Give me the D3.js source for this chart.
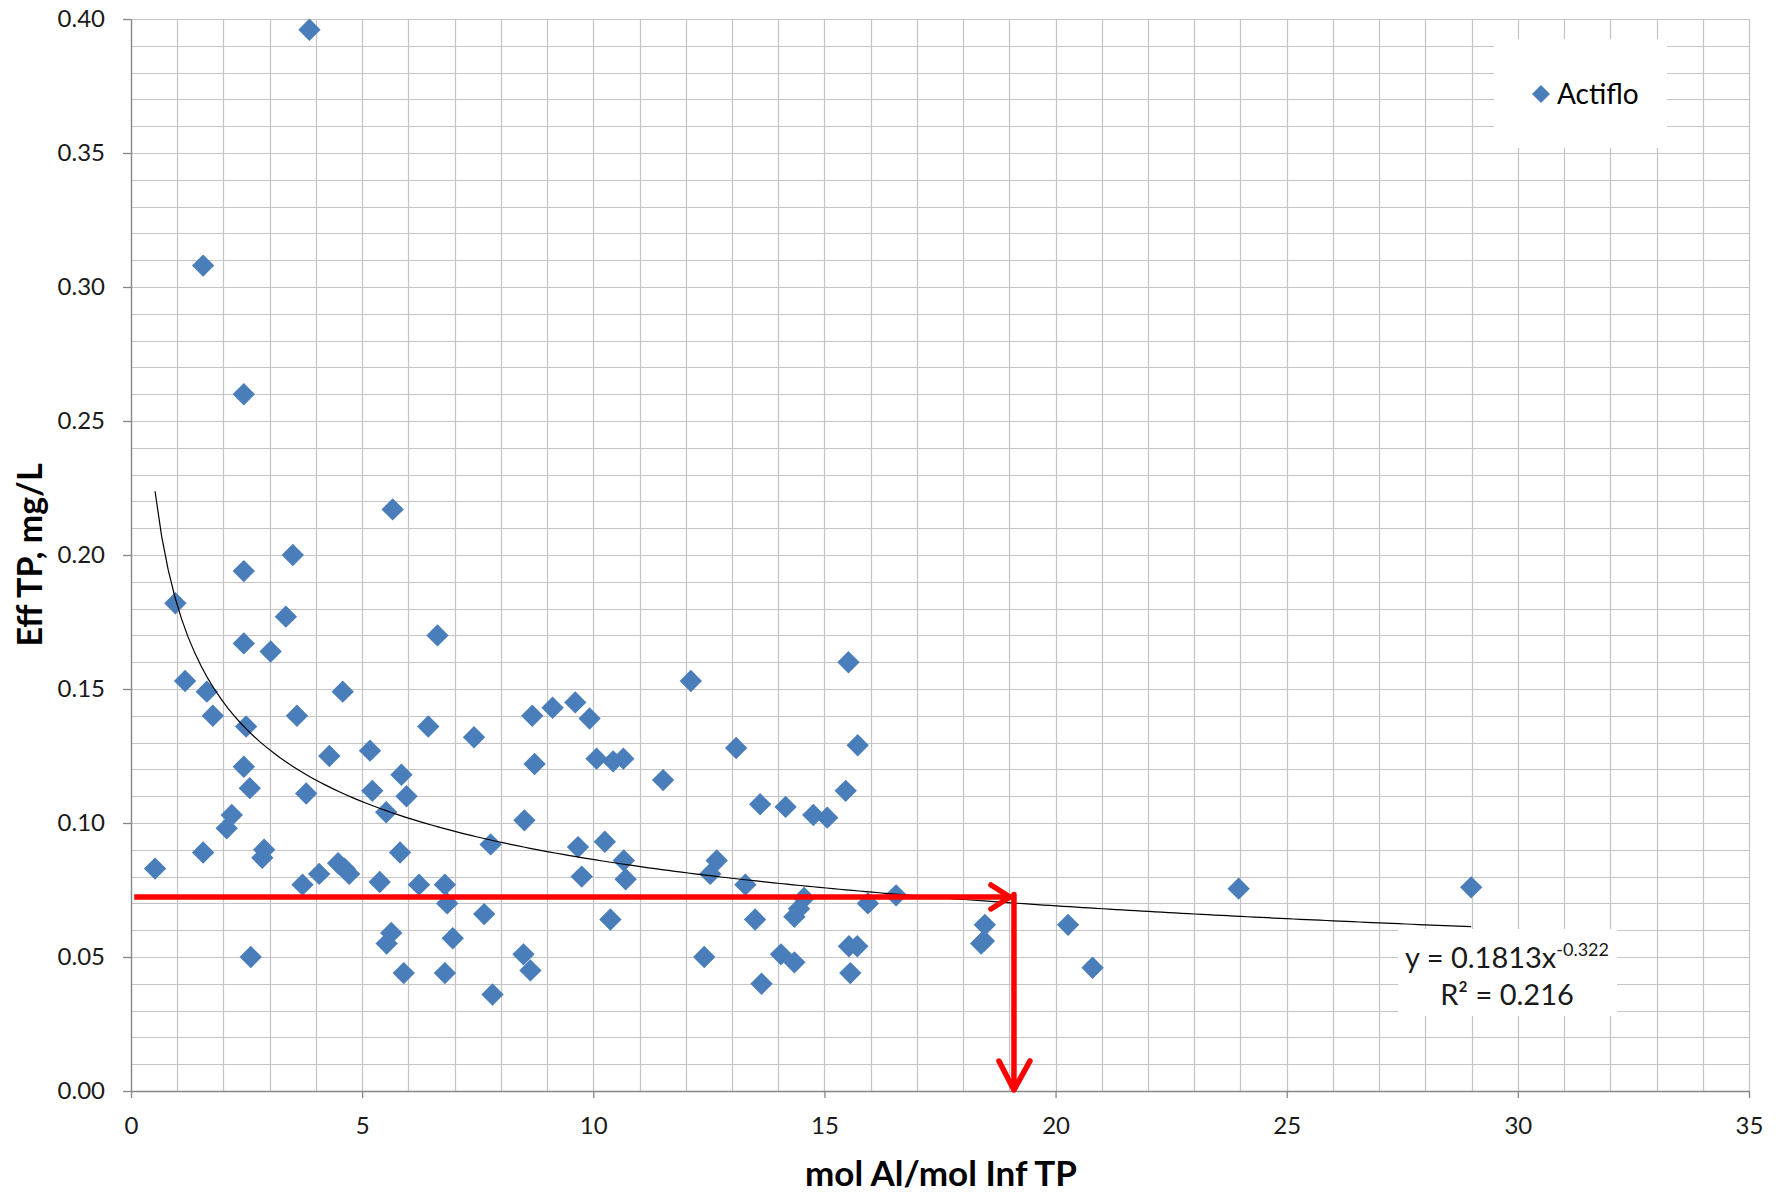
<!DOCTYPE html>
<html>
<head>
<meta charset="utf-8">
<script src="https://cdn.jsdelivr.net/npm/d3@7"></script>
<style>
  body { margin: 0; background: #fff; }
</style>
</head>
<body>
<div id="container"></div>
<script>
// values
let seriesName = "Actiflo";
let xVals = [3.86, 1.56, 2.44, 5.66, 3.50, 2.44, 0.96, 3.35, 6.63, 2.44,
  3.02, 15.52, 1.17, 12.11, 1.64, 4.58, 9.61, 9.12, 1.77, 3.59,
  8.68, 9.92, 2.49, 6.43, 7.42, 15.72, 13.09, 5.17, 4.29, 10.07,
  10.43, 10.65, 8.73, 2.44, 5.85, 11.51, 2.57, 5.22, 15.46, 3.79,
  5.96, 13.61, 14.16, 5.52, 2.18, 14.76, 15.06, 8.51, 2.07, 7.78,
  10.25, 9.67, 2.88, 1.56, 5.82, 2.84, 12.67, 10.66, 4.48, 0.52,
  4.62, 4.07, 12.53, 4.72, 9.75, 10.70, 5.38, 3.71, 6.23, 6.79,
  13.29, 23.96, 28.99, 16.55, 14.56, 15.94, 6.84, 14.45, 14.35, 7.64,
  13.50, 10.37, 18.47, 20.27, 18.39, 18.45, 6.96, 5.63, 5.53, 15.53,
  15.71, 14.06, 8.49, 12.40, 2.59, 14.35, 8.64, 20.80, 15.56, 5.90,
  6.79, 13.64, 7.82];
let yVals = [0.396, 0.308, 0.260, 0.217, 0.200, 0.194, 0.182, 0.177, 0.170, 0.167,
  0.164, 0.160, 0.153, 0.153, 0.149, 0.149, 0.145, 0.143, 0.140, 0.140,
  0.140, 0.139, 0.136, 0.136, 0.132, 0.129, 0.128, 0.127, 0.125, 0.124,
  0.123, 0.124, 0.122, 0.121, 0.118, 0.116, 0.113, 0.112, 0.112, 0.111,
  0.110, 0.107, 0.106, 0.104, 0.103, 0.103, 0.102, 0.101, 0.098, 0.092,
  0.093, 0.091, 0.090, 0.089, 0.089, 0.087, 0.086, 0.086, 0.085, 0.083,
  0.083, 0.081, 0.081, 0.081, 0.080, 0.079, 0.078, 0.077, 0.077, 0.077,
  0.077, 0.0755, 0.076, 0.073, 0.072, 0.070, 0.070, 0.068, 0.065, 0.066,
  0.064, 0.064, 0.062, 0.062, 0.055, 0.056, 0.057, 0.059, 0.055, 0.054,
  0.054, 0.051, 0.051, 0.050, 0.050, 0.048, 0.045, 0.046, 0.044, 0.044,
  0.044, 0.040, 0.036];
let xTicks = [0, 5, 10, 15, 20, 25, 30, 35];
let yTicks = [0.00, 0.05, 0.10, 0.15, 0.20, 0.25, 0.30, 0.35, 0.40];
let xTitle = "mol Al/mol Inf TP";
let yTitle = "Eff TP, mg/L";

// power trendline shown on the chart
let trendA = 0.1813;
let trendB = -0.322;
let trendEq = "y = 0.1813x";
let trendExp = "-0.322";
let trendR2 = "R\u00b2 = 0.216";

// red read-off arrow
let readY = 0.0724;
let readX = 19.1;
let readStart = 0.07;

let w = 1783;
let h = 1194;
let plotLeft = 131, plotRight = 1749, plotTop = 19, plotBottom = 1091;
let font = "Lato, 'Open Sans', sans-serif";
let blue = "#4a7ebb";

let viz = d3.select("#container")
  .append("svg")
    .attr("width", w)
    .attr("height", h)
    .style("background", "#fff");

let xScale = d3.scaleLinear().domain([0, 35]).range([plotLeft, plotRight]);
let yScale = d3.scaleLinear().domain([0, 0.40]).range([plotBottom, plotTop]);

// gridlines, every 1 on x and every 0.01 on y
let grid = viz.append("g").attr("class", "grid");
grid.selectAll(".vgrid").data(d3.range(0, 36)).enter()
  .append("line")
    .attr("x1", d => Math.round(xScale(d)) + 0.5)
    .attr("x2", d => Math.round(xScale(d)) + 0.5)
    .attr("y1", plotTop)
    .attr("y2", plotBottom)
    .attr("stroke", "#c4c4c4")
    .attr("stroke-width", 1.2);
grid.selectAll(".hgrid").data(d3.range(0, 41).map(i => i / 100)).enter()
  .append("line")
    .attr("x1", plotLeft)
    .attr("x2", plotRight)
    .attr("y1", d => Math.round(yScale(d)) + 0.5)
    .attr("y2", d => Math.round(yScale(d)) + 0.5)
    .attr("stroke", "#c4c4c4")
    .attr("stroke-width", 1.2);

// legend and equation boxes hide the grid
viz.append("rect")
  .attr("x", 1494).attr("y", 39)
  .attr("width", 173).attr("height", 109)
  .attr("fill", "#fff");
viz.append("rect")
  .attr("x", 1398).attr("y", 929)
  .attr("width", 219).attr("height", 87)
  .attr("fill", "#fff");

// axes
let xAxis = d3.axisBottom(xScale)
  .tickValues(xTicks)
  .tickFormat(d3.format("d"))
  .tickSize(7)
  .tickSizeOuter(0)
  .tickPadding(19);
let xAxisGroup = viz.append("g")
  .attr("transform", "translate(0," + plotBottom + ")")
  .call(xAxis);
xAxisGroup.attr("font-family", font).attr("font-size", 24);

let yAxis = d3.axisLeft(yScale)
  .tickValues(yTicks)
  .tickFormat(d3.format(".2f"))
  .tickSize(8)
  .tickSizeOuter(0)
  .tickPadding(18);
let yAxisGroup = viz.append("g")
  .attr("transform", "translate(" + plotLeft + ",0)")
  .call(yAxis);
yAxisGroup.attr("font-family", font).attr("font-size", 24);

viz.selectAll(".domain, .tick line").attr("stroke", "#868686").attr("stroke-width", 1.3);
viz.selectAll(".tick text").attr("fill", "#1a1a1a");

// axis titles
viz.append("text")
  .text(xTitle)
  .attr("x", 941)
  .attr("y", 1186)
  .attr("text-anchor", "middle")
  .attr("font-family", font)
  .attr("font-weight", "bold")
  .attr("font-size", 35)
  .attr("fill", "#000");

viz.append("text")
  .text(yTitle)
  .attr("transform", "translate(42,555) rotate(-90)")
  .attr("text-anchor", "middle")
  .attr("font-family", font)
  .attr("font-weight", "bold")
  .attr("font-size", 34)
  .attr("fill", "#000");

// points
let points = xVals.map((x, i) => ({x: x, y: yVals[i]}));
let diamond = d3.symbol().type(d3.symbolSquare).size(250);
viz.append("g").selectAll("path").data(points).enter()
  .append("path")
    .attr("d", diamond)
    .attr("transform", d => "translate(" + xScale(d.x) + "," + yScale(d.y) + ") rotate(45)")
    .attr("fill", blue);

// trendline over the data range
let xExt = d3.extent(xVals);
let trendPts = d3.range(0, 201).map(i => {
  let x = xExt[0] + (xExt[1] - xExt[0]) * i / 200;
  return [x, trendA * Math.pow(x, trendB)];
});
viz.append("path")
  .datum(trendPts)
  .attr("d", d3.line().x(d => xScale(d[0])).y(d => yScale(d[1])))
  .attr("fill", "none")
  .attr("stroke", "#000")
  .attr("stroke-width", 1.2);

// equation label
let eq = viz.append("text")
  .attr("x", 1507)
  .attr("y", 968)
  .attr("text-anchor", "middle")
  .attr("font-family", font)
  .attr("font-size", 29)
  .attr("fill", "#1a1a1a");
eq.append("tspan").text(trendEq);
eq.append("tspan").text(trendExp).attr("font-size", 18).attr("dy", -12);
viz.append("text")
  .text(trendR2)
  .attr("x", 1507)
  .attr("y", 1005)
  .attr("text-anchor", "middle")
  .attr("font-family", font)
  .attr("font-size", 29)
  .attr("fill", "#1a1a1a");

// legend
viz.append("path")
  .attr("d", d3.symbol().type(d3.symbolSquare).size(162))
  .attr("transform", "translate(1541,94) rotate(45)")
  .attr("fill", blue);
viz.append("text")
  .text(seriesName)
  .attr("x", 1557)
  .attr("y", 104)
  .attr("font-family", font)
  .attr("font-size", 28)
  .attr("fill", "#000");

// red arrow
let red = "#ff0000";
let ry = yScale(readY);
let rx = xScale(readX);
let arrow = viz.append("g")
  .attr("fill", "none")
  .attr("stroke", red)
  .attr("stroke-width", 5.5)
  .attr("stroke-linecap", "round")
  .attr("stroke-linejoin", "round");
arrow.append("line")
  .attr("x1", xScale(readStart)).attr("x2", rx)
  .attr("y1", ry).attr("y2", ry)
  .attr("stroke-linecap", "butt");
arrow.append("path")
  .attr("d", "M" + (rx - 23) + "," + (ry - 12) + "L" + (rx - 4) + "," + ry + "L" + (rx - 23) + "," + (ry + 12));
arrow.append("line")
  .attr("x1", rx).attr("x2", rx)
  .attr("y1", ry - 2.5).attr("y2", yScale(0) - 3);
arrow.append("path")
  .attr("d", "M" + (rx - 15) + "," + (yScale(0) - 30) + "L" + rx + "," + (yScale(0) - 1) + "L" + (rx + 16) + "," + (yScale(0) - 30));
</script>
</body>
</html>
